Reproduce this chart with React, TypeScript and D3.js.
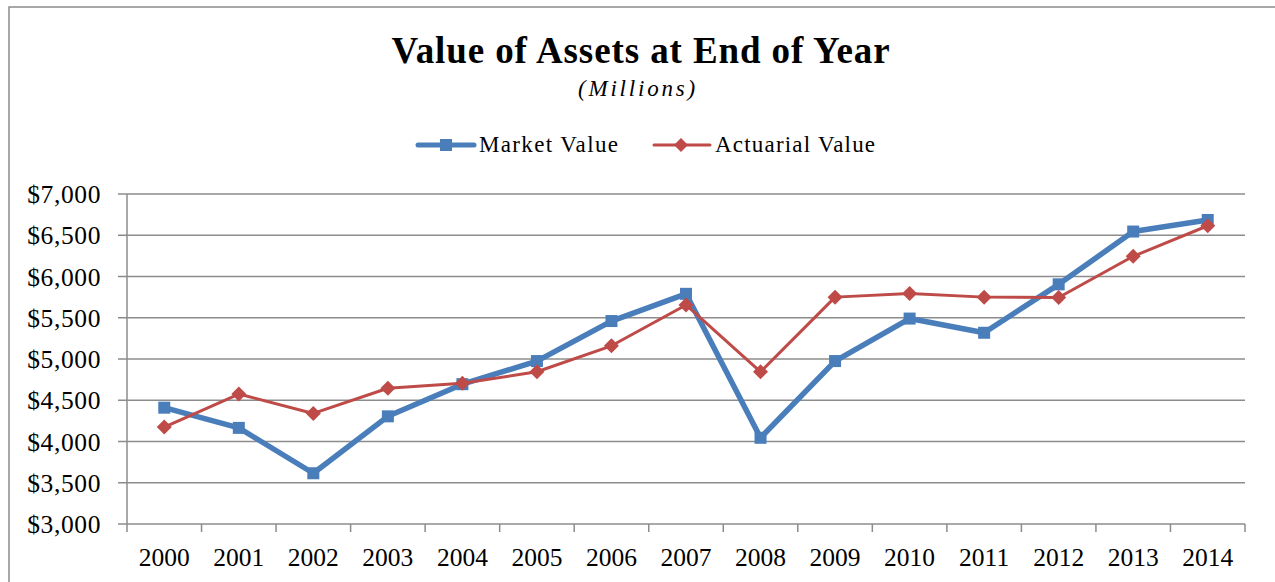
import React from "react";
import * as d3 from "d3";

const years = ["2000","2001","2002","2003","2004","2005","2006","2007","2008","2009","2010","2011","2012","2013","2014"];
const marketValue = [4410, 4165, 3615, 4305, 4695, 4975, 5460, 5790, 4045, 4975, 5490, 5318, 5905, 6545, 6685];
const actuarialValue = [4175, 4575, 4340, 4645, 4705, 4845, 5160, 5655, 4845, 5750, 5795, 5750, 5745, 6245, 6615];
const yTicks = [3000, 3500, 4000, 4500, 5000, 5500, 6000, 6500, 7000];

const W = 1275, H = 582;
const left = 127, right = 1245, top = 194, bottom = 524;
const FONT = "'Liberation Serif', 'Times New Roman', serif";
const BLUE = "#4a7ebb";
const RED = "#be4b48";
const GRID = "#8c8c8c";

export default function App() {
  const x = d3.scaleBand<string>().domain(years).range([left, right]);
  const y = d3.scaleLinear().domain([3000, 7000]).range([bottom, top]);
  const cx = (i: number) => (x(years[i]) as number) + x.bandwidth() / 2;
  const line = d3.line<number>().x((_, i) => cx(i)).y(d => y(d));
  const fmt = (v: number) => "$" + d3.format(",")(v);
  const diamond = (px: number, py: number, r: number) =>
    `M${px},${py - r}L${px + r},${py}L${px},${py + r}L${px - r},${py}Z`;
  const boundaries = years.map((_, i) => left + i * x.bandwidth()).concat([right]);

  return (
    <svg width={W} height={H} style={{ position: "absolute", left: 0, top: 0, background: "#fff" }}>
      <rect x={9} y={7} width={1300} height={600} fill="#fff" stroke="#8c8c8c" strokeWidth={1.5} />
      <text x={641} y={63} textAnchor="middle" fontFamily={FONT} fontWeight="bold" fontSize={37} letterSpacing={0.9}>
        Value of Assets at End of Year
      </text>
      <text x={638} y={96} textAnchor="middle" fontFamily={FONT} fontStyle="italic" fontSize={23} letterSpacing={2.8}>
        (Millions)
      </text>
      {/* legend */}
      <g>
        <line x1={418} x2={474} y1={145} y2={145} stroke={BLUE} strokeWidth={5} strokeLinecap="round" />
        <rect x={440} y={139} width={12} height={12} fill={BLUE} />
        <text x={479} y={152} fontFamily={FONT} fontSize={23} letterSpacing={1.35}>Market Value</text>
        <line x1={654} x2={710} y1={145} y2={145} stroke={RED} strokeWidth={3} strokeLinecap="round" />
        <path d={diamond(681, 145, 7)} fill={RED} />
        <text x={715} y={152} fontFamily={FONT} fontSize={23} letterSpacing={1.2}>Actuarial Value</text>
      </g>
      {/* grid */}
      {yTicks.map(t => (
        <g key={t}>
          <line x1={left - 9} x2={right} y1={y(t)} y2={y(t)} stroke={GRID} strokeWidth={1.5} />
          <text x={101} y={y(t) + 9} textAnchor="end" fontFamily={FONT} fontSize={25.5} letterSpacing={0.6}>{fmt(t)}</text>
        </g>
      ))}
      <line x1={left} x2={left} y1={top} y2={bottom} stroke={GRID} strokeWidth={1.5} />
      {boundaries.map((b, i) => (
        <line key={i} x1={b} x2={b} y1={bottom} y2={bottom + 8} stroke={GRID} strokeWidth={1.5} />
      ))}
      {years.map((yr, i) => (
        <text key={yr} x={cx(i)} y={566} textAnchor="middle" fontFamily={FONT} fontSize={25.5}>{yr}</text>
      ))}
      {/* series */}
      <path d={line(marketValue) || ""} fill="none" stroke={BLUE} strokeWidth={5.5} strokeLinejoin="round" />
      {marketValue.map((v, i) => (
        <rect key={i} x={cx(i) - 6} y={y(v) - 6} width={12} height={12} fill={BLUE} />
      ))}
      <path d={line(actuarialValue) || ""} fill="none" stroke={RED} strokeWidth={3} strokeLinejoin="round" />
      {actuarialValue.map((v, i) => (
        <path key={i} d={diamond(cx(i), y(v), 7.5)} fill={RED} />
      ))}
    </svg>
  );
}
